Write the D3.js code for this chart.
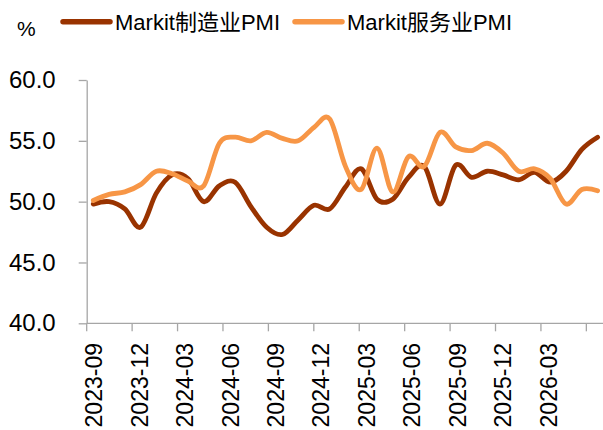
<!DOCTYPE html>
<html><head><meta charset="utf-8">
<script src="https://cdn.jsdelivr.net/npm/d3@7/dist/d3.min.js"></script>
<style>body{margin:0;background:#fff} svg{display:block;font-family:"Liberation Sans","Noto Sans CJK SC",sans-serif}</style>
</head><body>
<svg id="c" width="603" height="430"></svg>
<script>
// data months (one point per month)
const months = ["2023-09","2023-10","2023-11","2023-12","2024-01","2024-02","2024-03","2024-04","2024-05","2024-06","2024-07","2024-08","2024-09","2024-10","2024-11","2024-12","2025-01","2025-02","2025-03","2025-04","2025-05","2025-06","2025-07","2025-08","2025-09","2025-10","2025-11","2025-12","2026-01","2026-02","2026-03","2026-04","2026-05"];
// axis categories
const axisMonths = ["2023-09","2023-10","2023-11","2023-12","2024-01","2024-02","2024-03","2024-04","2024-05","2024-06","2024-07","2024-08","2024-09","2024-10","2024-11","2024-12","2025-01","2025-02","2025-03","2025-04","2025-05","2025-06","2025-07","2025-08","2025-09","2025-10","2025-11","2025-12","2026-01","2026-02","2026-03","2026-04","2026-05","2026-06"];
const tickLabels = ["2023-09","2023-12","2024-03","2024-06","2024-09","2024-12","2025-03","2025-06","2025-09","2025-12","2026-03"];
const seriesNames = ["Markit制造业PMI","Markit服务业PMI"];
const manufacturing = [49.8,50.0,49.4,47.9,50.7,52.2,51.9,50.0,51.3,51.6,49.6,47.9,47.3,48.5,49.7,49.4,51.2,52.7,50.2,50.2,52.0,52.9,49.8,53.0,52.0,52.5,52.2,51.8,52.4,51.6,52.5,54.3,55.3];
const services = [50.1,50.6,50.8,51.4,52.5,52.3,51.7,51.3,54.8,55.3,55.0,55.7,55.2,55.0,56.1,56.8,52.9,51.0,54.4,50.8,53.7,52.9,55.7,54.5,54.2,54.8,54.0,52.5,52.7,51.9,49.8,51.0,50.9];
const yTicks = [40,45,50,55,60];
const unit = "%";

const colors = ["#993300","#F79646"];
const svg = d3.select("#c");
const axisColor = "#a6a6a6";

const y = d3.scaleLinear().domain([40,60]).range([323.3,80]);
const xAxis = d3.scaleBand().domain(axisMonths).range([86.7,601.5]);
const xData = d3.scalePoint().domain(months).range([93.3,597.6]);

// y axis
const yAx = svg.append("g").attr("transform","translate(86.7,0)")
  .call(d3.axisLeft(y).tickValues(yTicks).tickFormat(d3.format(".1f")).tickSize(8).tickSizeOuter(0).tickPadding(23));
yAx.selectAll("path,line").attr("stroke",axisColor).attr("stroke-width",1.3);
yAx.selectAll("text").attr("font-size",24).attr("fill","#000").attr("font-family",null);

// x axis line
svg.append("line").attr("x1",86.7).attr("x2",603).attr("y1",y(40)).attr("y2",y(40))
  .attr("stroke",axisColor).attr("stroke-width",1.3);
const tickMonths = axisMonths.filter((d,i)=>i%3===0);
svg.append("g").selectAll("line").data(tickMonths).join("line")
  .attr("x1",d=>xAxis(d)).attr("x2",d=>xAxis(d)).attr("y1",y(40)).attr("y2",y(40)+8)
  .attr("stroke",axisColor).attr("stroke-width",1.3);
svg.append("g").selectAll("text").data(tickLabels).join("text")
  .attr("transform",d=>`translate(${xAxis(d)+xAxis.bandwidth()/2},343) rotate(-90)`)
  .attr("text-anchor","end").attr("dy","0.35em").attr("font-size",23).attr("fill","#000")
  .text(d=>d);

// lines
const line = d3.line().curve(d3.curveCardinal.tension(0));
[manufacturing, services].forEach((vals,k)=>{
  svg.append("path").datum(vals.map((v,i)=>[xData(months[i]), y(v)]))
    .attr("d",line).attr("fill","none").attr("stroke",colors[k]).attr("stroke-width",4.8)
    .attr("stroke-linejoin","round").attr("stroke-linecap","round");
});

// legend
svg.append("text").attr("x",17).attr("y",36).attr("font-size",21).attr("fill","#000").text(unit);
const legX = [63,295];
seriesNames.forEach((name,k)=>{
  svg.append("line").attr("x1",legX[k]).attr("x2",legX[k]+47).attr("y1",21.7).attr("y2",21.7)
    .attr("stroke",colors[k]).attr("stroke-width",5.5).attr("stroke-linecap","round");
  svg.append("text").attr("x",legX[k]+52).attr("y",30).attr("font-size",22).attr("fill","#000").text(name);
});
</script>
</body></html>
